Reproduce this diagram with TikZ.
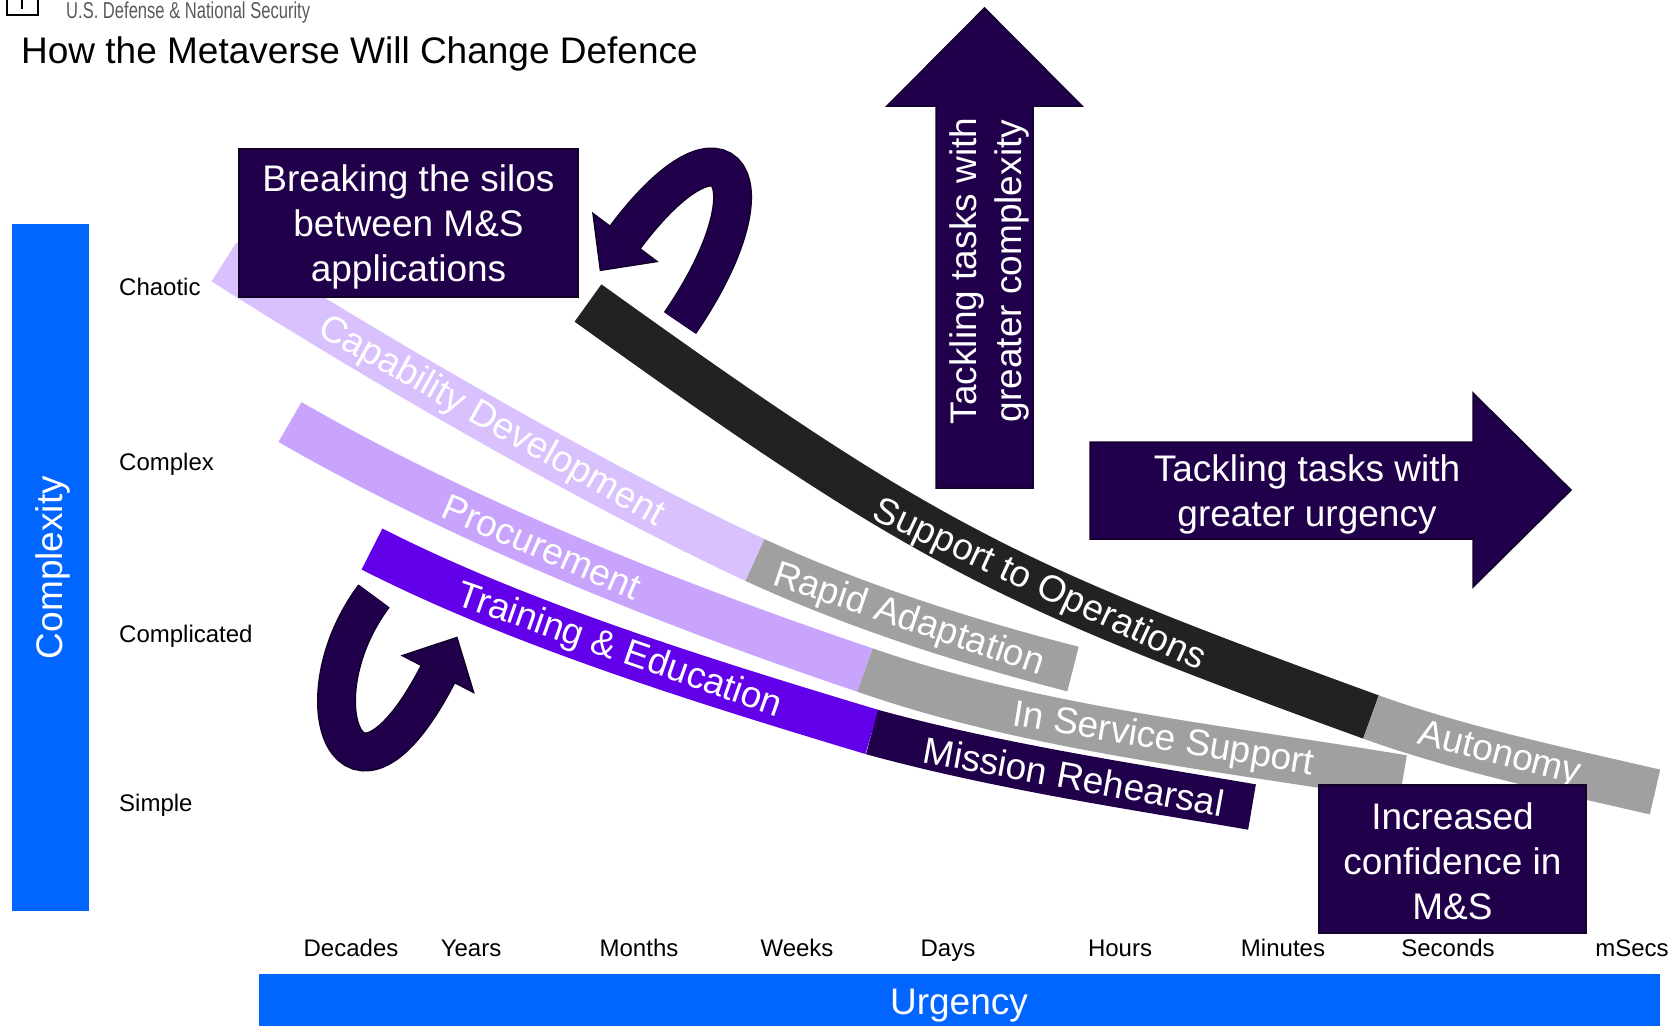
\documentclass[tikz,border=0pt]{standalone}
\usepackage{fontspec}
\setmainfont{Liberation Sans}
\usepackage{tikz}

\definecolor{deep}{HTML}{21004B}
\definecolor{deepedge}{HTML}{12002B}
\definecolor{capdev}{HTML}{D9C1FE}
\definecolor{procure}{HTML}{C8A4FC}
\definecolor{training}{HTML}{6200EA}
\definecolor{opsblack}{HTML}{222222}
\definecolor{steel}{HTML}{A0A0A0}
\definecolor{axisblue}{HTML}{0066FF}
\definecolor{brandgrey}{HTML}{5A5A5A}

\newcommand{\bigfont}{\fontsize{37}{45}\selectfont}
\newcommand{\smallfont}{\fontsize{24}{28}\selectfont}

\begin{document}
\begin{tikzpicture}[x=1pt, y=-1pt,
  every node/.style = {font=\bigfont, align=center},
  level/.style = {font=\smallfont, inner sep=0, anchor=base west},
  scale label/.style = {font=\smallfont, inner sep=0, anchor=base},
  lane/.style = {line width=46pt},
  laneword/.style = {sloped, text=white, inner sep=0},
  box/.style = {fill=deep, draw=deepedge, line width=2pt, inner sep=0},
  bigarrow/.style = {fill=deep, draw=deepedge, line width=1.5pt},
  turn/.style = {draw=deepedge, line width=1.5pt, double=deep,
    double distance=36pt}]
  \useasboundingbox (0,0) rectangle (1671,1026);

  \draw[line width=2pt] (7,0) -- (7,15) -- (38,15) -- (38,0);
  \draw[line width=2pt] (22,0) -- (22,9);
  \node[anchor=base west, inner sep=0, text=brandgrey] (brand) at (66,18.5)
    {\scalebox{0.72}[1]{\fontsize{23}{26}\selectfont U.S. Defense \& National Security}};
  \node[anchor=base west, inner sep=0] (title) at (21,63)
    {How the Metaverse Will Change Defence};

  \node[fill=axisblue, minimum width=77pt, minimum height=687pt, inner sep=0]
    (complexitybar) at (50.5,567.5) {};
  \node[rotate=90, text=white] (complexity) at (52.5,567.5) {Complexity};
  \node[level] (chaotic) at (119,295.5) {Chaotic};
  \node[level] (complex) at (119,470) {Complex};
  \node[level] (complicated) at (119,642) {Complicated};
  \node[level] (simple) at (119,811) {Simple};

  \fill[axisblue] (259,974) rectangle (1660,1026);
  \node[text=white] (urgency) at (959,1006) {Urgency};
  \node[scale label] (decades) at (351,956.5) {Decades};
  \node[scale label] (years) at (471,956.5) {Years};
  \node[scale label] (months) at (639,956.5) {Months};
  \node[scale label] (weeks) at (797,956.5) {Weeks};
  \node[scale label] (days) at (948,956.5) {Days};
  \node[scale label] (hours) at (1120,956.5) {Hours};
  \node[scale label] (minutes) at (1283,956.5) {Minutes};
  \node[scale label] (seconds) at (1448,956.5) {Seconds};
  \node[scale label] (msecs) at (1632,956.5) {mSecs};

  \draw[lane, draw=capdev]
    (224,262) .. controls (376,359) and (592,484) .. (755,560)
    node[laneword, pos=0.51] (capdevword) {Capability Development};
  \draw[lane, draw=steel]
    (755,560) .. controls (855,606) and (967,642) .. (1073,669)
    node[laneword, pos=0.49] (rapidword) {Rapid Adaptation};
  \draw[lane, draw=procure]
    (290,422) .. controls (463,522) and (675,606) .. (865,670)
    node[laneword, pos=0.45] (procureword) {Procurement};
  \draw[lane, draw=steel]
    (865,670) .. controls (1034,729) and (1225,748) .. (1403,778)
    node[laneword, pos=0.56] (serviceword) {In Service Support};
  \draw[lane, draw=training]
    (372,549) .. controls (523,626) and (713,684) .. (872,732)
    node[laneword, pos=0.5] (trainingword) {Training \& Education};
  \draw[lane, draw=deep]
    (872,732) .. controls (996,766) and (1129,786) .. (1252,807)
    node[laneword, pos=0.53] (missionword) {Mission Rehearsal};
  \draw[lane, draw=opsblack]
    (588,303) .. controls (925,545) and (1000,582) .. (1371,717)
    node[laneword, pos=0.61] (opsword) {Support to Operations};
  \draw[lane, draw=steel]
    (1371,717) .. controls (1460,749) and (1560,770) .. (1655,792)
    node[laneword, pos=0.46] (autonomyword) {Autonomy};

  \node[box, minimum width=339pt, minimum height=148pt] (silos) at (408.5,223) {};
  \node[text=white] (silostext) at (408.5,227)
    {Breaking the silos\\between M\&S\\applications};
  \node[box, minimum width=267pt, minimum height=148pt] (confidence) at (1452.5,859) {};
  \node[text=white] (confidencetext) at (1452.5,861)
    {Increased\\confidence in\\M\&S};

  \filldraw[bigarrow] (593,213.5) -- (600.4,270.3) -- (657,261.5) -- cycle;
  \draw[turn] (680,323) .. controls (778,180) and (727,101.5) .. (625,237.5);
  \filldraw[bigarrow] (402.4,655.6) -- (456.9,637.5) -- (473.6,692.4) -- cycle;
  \draw[turn] (374,596) .. controls (296,700) and (350.6,843) .. (438,674);

  \filldraw[bigarrow] (936,488) -- (936,106) -- (887,106) -- (984.5,8)
    -- (1082,106) -- (1033,106) -- (1033,488) -- cycle;
  \node[rotate=90, text=white] (upward) at (989,271)
    {Tackling tasks with\\greater complexity};
  \filldraw[bigarrow] (1090,442) -- (1473,442) -- (1473,393) -- (1571,490)
    -- (1473,587) -- (1473,539) -- (1090,539) -- cycle;
  \node[text=white] (onward) at (1307,494)
    {Tackling tasks with\\greater urgency};
\end{tikzpicture}
\end{document}
